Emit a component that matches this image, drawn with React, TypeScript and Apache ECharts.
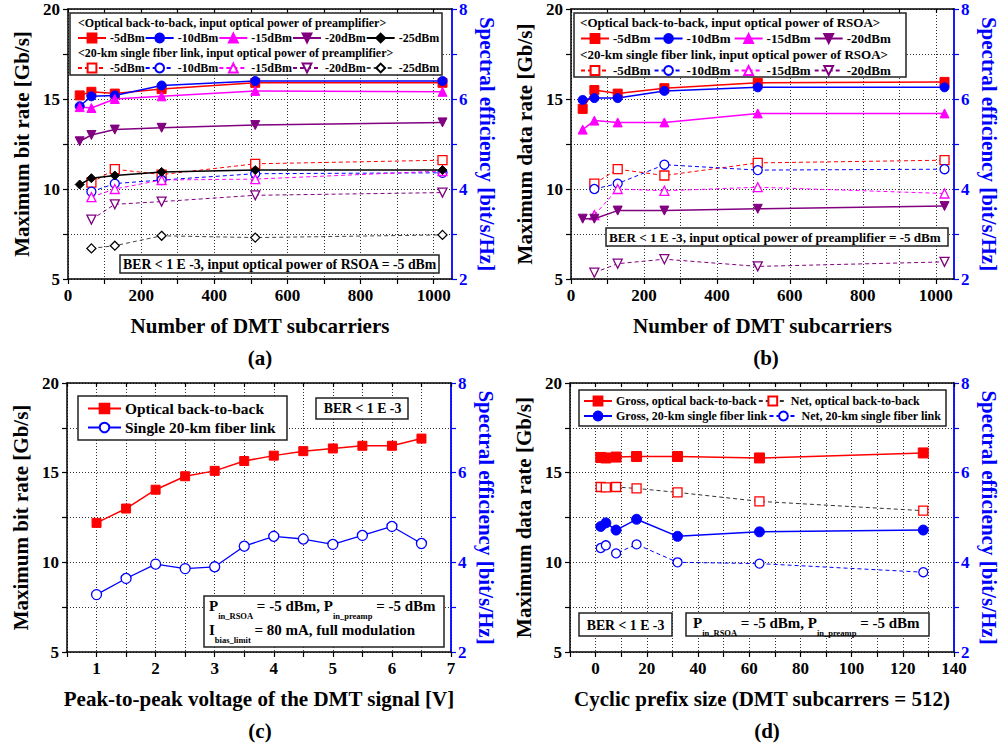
import React, { useEffect, useRef } from "react";
import * as echarts from "echarts";

const FONT = '"Liberation Serif", "Times New Roman", serif';

// ---------- data ----------
const SUBCARRIERS = [32, 64, 128, 256, 512, 1024];
const SUBCARRIERS_KM = [64, 128, 256, 512, 1024];

const A_B2B_M5 = [15.2, 15.4, 15.3, 15.55, 15.9, 15.9];
const A_B2B_M10 = [14.6, 15.15, 15.2, 15.75, 16.0, 16.0];
const A_B2B_M15 = [14.55, 14.5, 15.0, 15.15, 15.45, 15.4];
const A_B2B_M20 = [12.65, 13.0, 13.3, 13.4, 13.55, 13.7];
const A_B2B_M25 = [10.25, 10.6, 10.75, 10.95, 11.05, 11.05];
const A_KM_M5 = [10.35, 11.1, 10.8, 11.4, 11.6];
const A_KM_M10 = [9.85, 10.3, 10.5, 10.85, 10.9];
const A_KM_M15 = [9.55, 10.0, 10.5, 10.55, 11.0];
const A_KM_M20 = [8.3, 9.15, 9.3, 9.65, 9.8];
const A_KM_M25 = [6.7, 6.85, 7.4, 7.3, 7.45];

const B_B2B_M5 = [14.45, 15.5, 15.3, 15.6, 15.9, 15.95];
const B_B2B_M10 = [14.95, 15.05, 15.05, 15.45, 15.65, 15.65];
const B_B2B_M15 = [13.3, 13.8, 13.7, 13.7, 14.2, 14.2];
const B_B2B_M20 = [8.35, 8.35, 8.8, 8.8, 8.9, 9.05];
const B_KM_M5 = [10.3, 11.1, 10.75, 11.45, 11.6];
const B_KM_M10 = [10.0, 10.3, 11.35, 11.05, 11.1];
const B_KM_M15 = [8.55, 10.0, 9.9, 10.1, 9.75];
const B_KM_M20 = [5.35, 5.85, 6.1, 5.7, 5.95];

const VPP = [1, 1.5, 2, 2.5, 3, 3.5, 4, 4.5, 5, 5.5, 6, 6.5];
const C_B2B = [12.2, 13.0, 14.05, 14.8, 15.1, 15.65, 15.95, 16.2, 16.35, 16.5, 16.5, 16.9];
const C_KM = [8.2, 9.1, 9.9, 9.65, 9.75, 10.9, 11.45, 11.3, 11.0, 11.5, 12.0, 11.05];

const CP = [2, 4, 8, 16, 32, 64, 128];
const D_GROSS_B2B = [15.85, 15.82, 15.87, 15.9, 15.9, 15.82, 16.1];
const D_NET_B2B = [14.2, 14.18, 14.2, 14.12, 13.9, 13.4, 12.88];
const D_GROSS_KM = [12.0, 12.2, 11.8, 12.4, 11.45, 11.7, 11.8];
const D_NET_KM = [10.8, 10.95, 10.5, 11.0, 10.0, 9.93, 9.45];

const POWERS = ["-5dBm", "-10dBm", "-15dBm", "-20dBm", "-25dBm"];
const COLORS = ["#ff0000", "#0000ff", "#ff00ff", "#800080", "#000000"];
const SYMBOLS = ["rect", "circle", "triangle", "triangle", "diamond"];
const ROTS = [0, 0, 0, 180, 0];

const LEFT_TICKS = [5, 7.5, 10, 12.5, 15, 17.5, 20];
const RIGHT_TICKS = [2, 3, 4, 5, 6, 7, 8];
const SUB_TICKS = [0, 100, 200, 300, 400, 500, 600, 700, 800, 900, 1000];
const SUB_LABELS = [0, 200, 400, 600, 800, 1000];
const VPP_TICKS = [0.5, 1, 1.5, 2, 2.5, 3, 3.5, 4, 4.5, 5, 5.5, 6, 6.5, 7];
const VPP_LABELS = [1, 2, 3, 4, 5, 6, 7];
const CP_TICKS = [-10, 0, 10, 20, 30, 40, 50, 60, 70, 80, 90, 100, 110, 120, 130, 140];
const CP_LABELS = [0, 20, 40, 60, 80, 100, 120, 140];

// ---------- helpers ----------
const strip = (n: string) => n.split("|")[0];

function mkSeries(
  name: string, xs: number[], ys: number[], color: string, symbol: string, rot: number,
  filled: boolean, dashed: boolean, axis: number, lineColor?: string, size = 9
) {
  return {
    type: "line", name, xAxisIndex: axis * 2, yAxisIndex: axis * 2,
    data: xs.map((x, i) => [x, ys[i]]),
    symbol, symbolRotate: rot, symbolSize: size, showSymbol: true,
    lineStyle: { color: lineColor || color, width: dashed ? 1 : 1.5, type: dashed ? [4, 3] : "solid" },
    itemStyle: filled ? { color, borderColor: color, borderWidth: 1 } : { color: "#ffffff", borderColor: color, borderWidth: 1.3 },
    z: dashed ? 2 : 3,
  };
}

function leftY(grid: number, name: string) {
  return {
    type: "value", gridIndex: grid, position: "left", min: 5, max: 20, interval: 5,
    name, nameLocation: "middle", nameGap: 36,
    nameTextStyle: { fontFamily: FONT, fontWeight: "bold", fontSize: 21, color: "#000" },
    axisLine: { show: true, onZero: false, lineStyle: { color: "#000", width: 1.5 } },
    axisTick: { show: true, inside: false, length: 5, customValues: LEFT_TICKS, lineStyle: { color: "#000", width: 1.2 } },
    axisLabel: { fontFamily: FONT, fontWeight: "bold", fontSize: 17, color: "#000", margin: 8 },
    splitLine: { show: true, lineStyle: { color: "#333", type: [1, 2], width: 1 } },
  };
}
function rightY(grid: number) {
  return {
    type: "value", gridIndex: grid, position: "right", min: 2, max: 8, interval: 2,
    name: "Spectral efficiency [bit/s/Hz]", nameLocation: "middle", nameGap: 24, nameRotate: -90,
    nameTextStyle: { fontFamily: FONT, fontWeight: "bold", fontSize: 21, color: "#0000ff" },
    axisLine: { show: true, onZero: false, lineStyle: { color: "#0000ff", width: 1.8 } },
    axisTick: { show: true, inside: false, length: 5, customValues: RIGHT_TICKS, lineStyle: { color: "#0000ff", width: 1.2 } },
    axisLabel: { fontFamily: FONT, fontWeight: "bold", fontSize: 17, color: "#0000ff", margin: 7 },
    splitLine: { show: false },
  };
}
function bottomX(grid: number, name: string, min: number, max: number, extra: any, ticks: number[], labels: number[]) {
  return {
    type: "value", gridIndex: grid, position: "bottom", min, max, ...extra,
    name, nameLocation: "middle", nameGap: 36,
    nameTextStyle: { fontFamily: FONT, fontWeight: "bold", fontSize: 21, color: "#000" },
    axisLine: { show: true, onZero: false, lineStyle: { color: "#000", width: 1.5 } },
    axisTick: { show: true, inside: false, length: 5, customValues: ticks, lineStyle: { color: "#000", width: 1.2 } },
    axisLabel: {
      fontFamily: FONT, fontWeight: "bold", fontSize: 17, color: "#000", margin: 8, customValues: labels,
      formatter: (v: number) => (labels.indexOf(v) >= 0 ? String(v) : ""),
    },
    splitLine: { show: true, lineStyle: { color: "#333", type: [1, 2], width: 1 } },
  };
}
function topX(grid: number, min: number, max: number, extra: any, ticks: number[]) {
  return {
    type: "value", gridIndex: grid, position: "top", min, max, ...extra,
    axisLine: { show: true, onZero: false, lineStyle: { color: "#000", width: 1.5 } },
    axisTick: { show: true, inside: true, length: 4, customValues: ticks, lineStyle: { color: "#000", width: 1.2 } },
    axisLabel: { show: false },
    splitLine: { show: false },
  };
}
function legendRow(names: string[], left: number, top: number, gap: number, fontSize = 12, itemWidth = 28, itemHeight = 11) {
  return {
    data: names, left, top, orient: "horizontal", padding: 0, itemGap: gap, itemWidth, itemHeight,
    selectedMode: false, formatter: strip, z: 6,
    textStyle: { fontFamily: FONT, fontWeight: "bold", fontSize, color: "#000", padding: [0, 0, 0, -1] },
  };
}
function box(x: number, y: number, w: number, h: number) {
  return { type: "rect", shape: { x, y, width: w, height: h }, style: { fill: "#fff", stroke: "#222", lineWidth: 1.5 }, z: 3 };
}
function txt(text: string, x: number, y: number, size: number, align = "left", color = "#000") {
  return {
    type: "text", x, y, z: 7,
    style: { text, fontFamily: FONT, fontWeight: "bold", fontSize: size, fill: color, align, verticalAlign: "middle" },
  };
}
function richTxt(text: string, x: number, y: number) {
  return {
    type: "text", x, y, z: 7,
    style: {
      text, fill: "#000", align: "left", verticalAlign: "middle",
      rich: {
        m: { fontFamily: FONT, fontWeight: "bold", fontSize: 15, lineHeight: 22, verticalAlign: "top" },
        s: { fontFamily: FONT, fontWeight: "bold", fontSize: 8.5, lineHeight: 9, verticalAlign: "bottom" },
      },
    },
  };
}

export default function App() {
  const ref = useRef<HTMLDivElement>(null);
  useEffect(() => {
    document.body.style.margin = "0";
    const chart = echarts.init(ref.current!, undefined, { renderer: "svg" });

    const series: any[] = [];
    const aB2B = [A_B2B_M5, A_B2B_M10, A_B2B_M15, A_B2B_M20, A_B2B_M25];
    const aKM = [A_KM_M5, A_KM_M10, A_KM_M15, A_KM_M20, A_KM_M25];
    const bB2B = [B_B2B_M5, B_B2B_M10, B_B2B_M15, B_B2B_M20];
    const bKM = [B_KM_M5, B_KM_M10, B_KM_M15, B_KM_M20];
    const aN1: string[] = [], aN2: string[] = [], bN1: string[] = [], bN2: string[] = [];
    aB2B.forEach((d, i) => {
      const n = POWERS[i] + "|a|b2b"; aN1.push(n);
      series.push(mkSeries(n, SUBCARRIERS, d, COLORS[i], SYMBOLS[i], ROTS[i], true, false, 0));
    });
    aKM.forEach((d, i) => {
      const n = POWERS[i] + "|a|km"; aN2.push(n);
      series.push(mkSeries(n, SUBCARRIERS_KM, d, COLORS[i], SYMBOLS[i], ROTS[i], false, true, 0, i === 4 ? "#444" : undefined));
    });
    bB2B.forEach((d, i) => {
      const n = POWERS[i] + "|b|b2b"; bN1.push(n);
      series.push(mkSeries(n, SUBCARRIERS, d, COLORS[i], SYMBOLS[i], ROTS[i], true, false, 1));
    });
    bKM.forEach((d, i) => {
      const n = POWERS[i] + "|b|km"; bN2.push(n);
      series.push(mkSeries(n, SUBCARRIERS_KM, d, COLORS[i], SYMBOLS[i], ROTS[i], false, true, 1));
    });
    series.push(mkSeries("Optical back-to-back", VPP, C_B2B, "#ff0000", "rect", 0, true, false, 2, undefined, 9));
    const cKm = mkSeries("Single 20-km fiber link", VPP, C_KM, "#0000ff", "circle", 0, false, false, 2, undefined, 10);
    cKm.lineStyle.width = 1.3;
    series.push(cKm);
    series.push(mkSeries("Gross, optical back-to-back", CP, D_GROSS_B2B, "#ff0000", "rect", 0, true, false, 3, undefined, 10));
    series.push(mkSeries("Net, optical back-to-back", CP, D_NET_B2B, "#ff0000", "rect", 0, false, true, 3, "#333", 9));
    series.push(mkSeries("Gross, 20-km single fiber link", CP, D_GROSS_KM, "#0000ff", "circle", 0, true, false, 3, undefined, 10));
    series.push(mkSeries("Net, 20-km single fiber link", CP, D_NET_KM, "#0000ff", "circle", 0, false, true, 3, undefined, 9));

    const option: any = {
      animation: false,
      backgroundColor: "#fff",
      grid: [
        { left: 68, top: 9, width: 384, height: 270 },
        { left: 571, top: 9, width: 383, height: 270 },
        { left: 67, top: 383, width: 384, height: 269 },
        { left: 570, top: 383, width: 384, height: 269 },
      ],
      xAxis: [
        bottomX(0, "Number of DMT subcarriers", 0, 1050, { interval: 200 }, SUB_TICKS, SUB_LABELS),
        topX(0, 0, 1050, { interval: 200 }, SUB_TICKS),
        bottomX(1, "Number of DMT subcarriers", 0, 1050, { interval: 200 }, SUB_TICKS, SUB_LABELS),
        topX(1, 0, 1050, { interval: 200 }, SUB_TICKS),
        bottomX(2, "Peak-to-peak voltage of the DMT signal [V]", 0.5, 7, { splitNumber: 6 }, VPP_TICKS, VPP_LABELS),
        topX(2, 0.5, 7, { splitNumber: 6 }, VPP_TICKS),
        bottomX(3, "Cyclic prefix size (DMT subcarrers = 512)", -10, 140, { splitNumber: 7 }, CP_TICKS, CP_LABELS),
        topX(3, -10, 140, { splitNumber: 7 }, CP_TICKS),
      ],
      yAxis: [
        leftY(0, "Maximum bit rate [Gb/s]"), rightY(0),
        leftY(1, "Maximum data rate [Gb/s]"), rightY(1),
        leftY(2, "Maximum bit rate [Gb/s]"), rightY(2),
        leftY(3, "Maximum data rate [Gb/s]"), rightY(3),
      ],
      legend: [
        legendRow(aN1, 77, 32, 0, 12),
        legendRow(aN2, 77, 62, 0, 12),
        legendRow(bN1, 580, 32, 3, 13),
        legendRow(bN2, 580, 64, 3, 13),
        legendRow(["Optical back-to-back"], 87, 401, 0, 15.4, 33, 12),
        legendRow(["Single 20-km fiber link"], 87, 420, 0, 15.4, 33, 12),
        legendRow(["Gross, optical back-to-back", "Net, optical back-to-back"], 583, 395, 1, 12),
        legendRow(["Gross, 20-km single fiber link", "Net, 20-km single fiber link"], 583, 410, 1, 12),
      ],
      graphic: [
        box(70, 13, 372, 62),
        txt("<Optical back-to-back, input optical power of preamplifier>", 78, 23, 12),
        txt("<20-km single fiber link, input optical power of preamplifier>", 78, 53, 12),
        box(120, 255, 319, 18),
        txt("BER < 1 E -3, input optical power of RSOA = -5 dBm", 123, 264.5, 13.8),

        box(574, 13, 332, 64),
        txt("<Optical back-to-back, input optical power of RSOA>", 580, 22, 13),
        txt("<20-km single fiber link, input optical power of RSOA>", 580, 54, 13),
        box(606, 228, 342, 18),
        txt("BER < 1 E -3, input optical power of preamplifier = -5 dBm", 609, 237, 13.1),

        box(78, 396, 209, 44),
        box(316, 398, 92, 21),
        txt("BER < 1 E -3", 362.5, 408.5, 13.8, "center"),
        box(204, 596, 240, 51),
        richTxt("{m|P}{s|in_RSOA}{m| = -5 dBm, P}{s|in_preamp}{m| = -5 dBm}", 209, 609),
        richTxt("{m|I}{s|bias_limit}{m| = 80 mA, full modulation}", 209, 633),

        box(579, 390, 367, 36),
        box(579, 613, 93, 23),
        txt("BER < 1 E -3", 625.5, 625, 13.8, "center"),
        box(686, 613, 243, 23),
        richTxt("{m|P}{s|in_RSOA}{m| = -5 dBm, P}{s|in_preamp}{m| = -5 dBm}", 693, 626),

        txt("(a)", 260, 358, 21, "center"),
        txt("(b)", 766, 358, 21, "center"),
        txt("(c)", 260, 731, 21, "center"),
        txt("(d)", 767, 731, 21, "center"),
      ],
      series,
    };
    chart.setOption(option);
    return () => chart.dispose();
  }, []);
  return <div ref={ref} style={{ width: 1001, height: 746 }} />;
}
